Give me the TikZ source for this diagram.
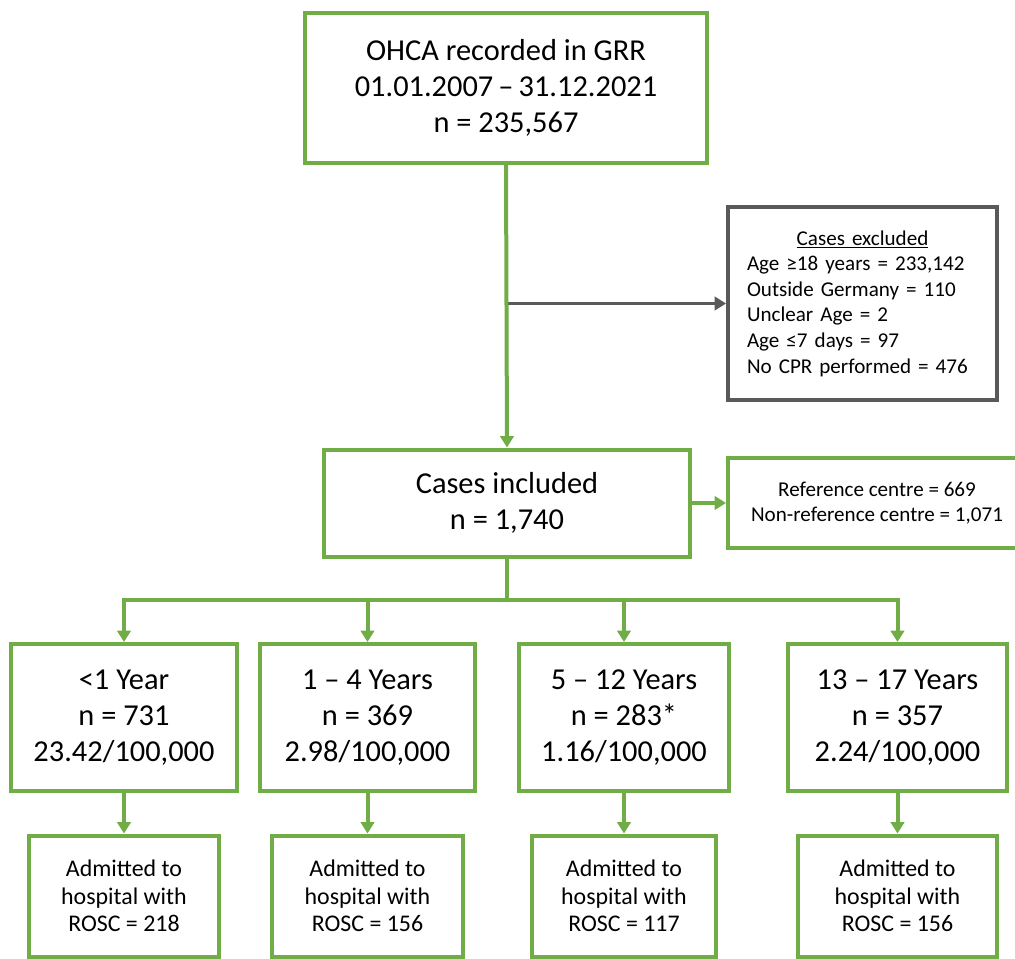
\documentclass[tikz,border=0pt]{standalone}
\usepackage{fontspec}
\setmainfont{Carlito}
\definecolor{main}{RGB}{112,173,71}
\definecolor{second}{RGB}{89,89,89}
\usetikzlibrary{
	arrows.meta,
	positioning
}
\tikzset{
  % arrow
	cstgra/.style     ={-{Triangle[width=0.27cm,length=0.23cm]}, draw=main, line width=0.08cm},   % green arrow
	cstgline/.style   ={draw=main, line width=0.08cm},                                          % green line
	cstdra/.style     ={-{Triangle[width=0.27cm,length=0.23cm]}, draw=second, line width=0.07cm}, % grey arrow
  % node
	cstbox/.style     ={fill=white,draw=main,text=black,line width=0.08cm,align=center,inner sep=0pt},
	cstbox2/.style    ={fill=white,draw=second,text=black,line width=0.08cm},
  % font
	cstbig/.style     ={font=\fontsize{17.3}{20.5}\selectfont},
	cstmid/.style     ={font=\fontsize{13.6}{15.8}\selectfont},
	cstsmall/.style   ={font=\fontsize{12}{14.6}\selectfont}
}
\begin{document}
\begin{tikzpicture}[x=0.02cm,y=-0.02cm]
			\useasboundingbox (0,0) rectangle (1015,958);
			% top
			\node[cstbox,cstbig,minimum width=8.04cm,minimum height=3cm] (ohca) at (506,88) {OHCA recorded in GRR\\01.01.2007\,--\,31.12.2021\\n = 235,567};
			\node[cstbox2,cstsmall,text width=4.62cm,align=left,inner xsep=0.38cm,minimum height=3.86cm] (excl) at (862.5,303.5)
				{{\centering\underline{Cases excluded}\par}Age ≥18 years = 233,142\\Outside Germany = 110\\Unclear Age = 2\\Age ≤7 days = 97\\No CPR performed = 476};
			\node[cstbox,cstbig,minimum width=7.32cm,minimum height=2.14cm] (incl) at (507,503) {Cases included\\n = 1,740};
			\node[cstbox,cstsmall,minimum width=5.96cm,minimum height=1.8cm] (ref) at (877,503) {Reference centre = 669\\Non-reference centre = 1,071};
			% age groups
			\node[cstbox,cstbig,minimum width=4.54cm,minimum height=2.94cm] (age1) at (124,717.5) {<1 Year\\n = 731\\23.42/100,000};
			\node[cstbox,cstbig,minimum width=4.3cm,minimum height=2.94cm] (age2) at (367.5,717.5) {1 -- 4 Years\\n = 369\\2.98/100,000};
			\node[cstbox,cstbig,minimum width=4.2cm,minimum height=2.94cm] (age3) at (624,717.5) {5 -- 12 Years\\n = 283*\\1.16/100,000};
			\node[cstbox,cstbig,minimum width=4.38cm,minimum height=2.94cm] (age4) at (897.5,717.5) {13 -- 17 Years\\n = 357\\2.24/100,000};
			% rosc
			\node[cstbox,cstmid,minimum width=3.8cm,minimum height=2.42cm] (rosc1) at (124,896) {Admitted to\\hospital with\\ROSC = 218};
			\node[cstbox,cstmid,minimum width=3.82cm,minimum height=2.42cm] (rosc2) at (367.5,896) {Admitted to\\hospital with\\ROSC = 156};
			\node[cstbox,cstmid,minimum width=3.7cm,minimum height=2.42cm] (rosc3) at (624,896) {Admitted to\\hospital with\\ROSC = 117};
			\node[cstbox,cstmid,minimum width=3.98cm,minimum height=2.42cm] (rosc4) at (897.5,896) {Admitted to\\hospital with\\ROSC = 156};
			% connectors
			\coordinate (tap) at (ohca.south |- excl.west);
			\coordinate (split) at (507,600);
			\draw[cstdra] (tap)--(excl.west);
			\draw[cstgra] (ohca.south)--(incl.north);
			\draw[cstgra] (incl.east)--(ref.west);
			\draw[cstgline] (incl.south)--(split);
			\foreach \i in {1,...,4}{
				\draw[cstgra] (split) -| (age\i.north);
				\draw[cstgra] (age\i.south)--(rosc\i.north);
			}
		\end{tikzpicture}
\end{document}
